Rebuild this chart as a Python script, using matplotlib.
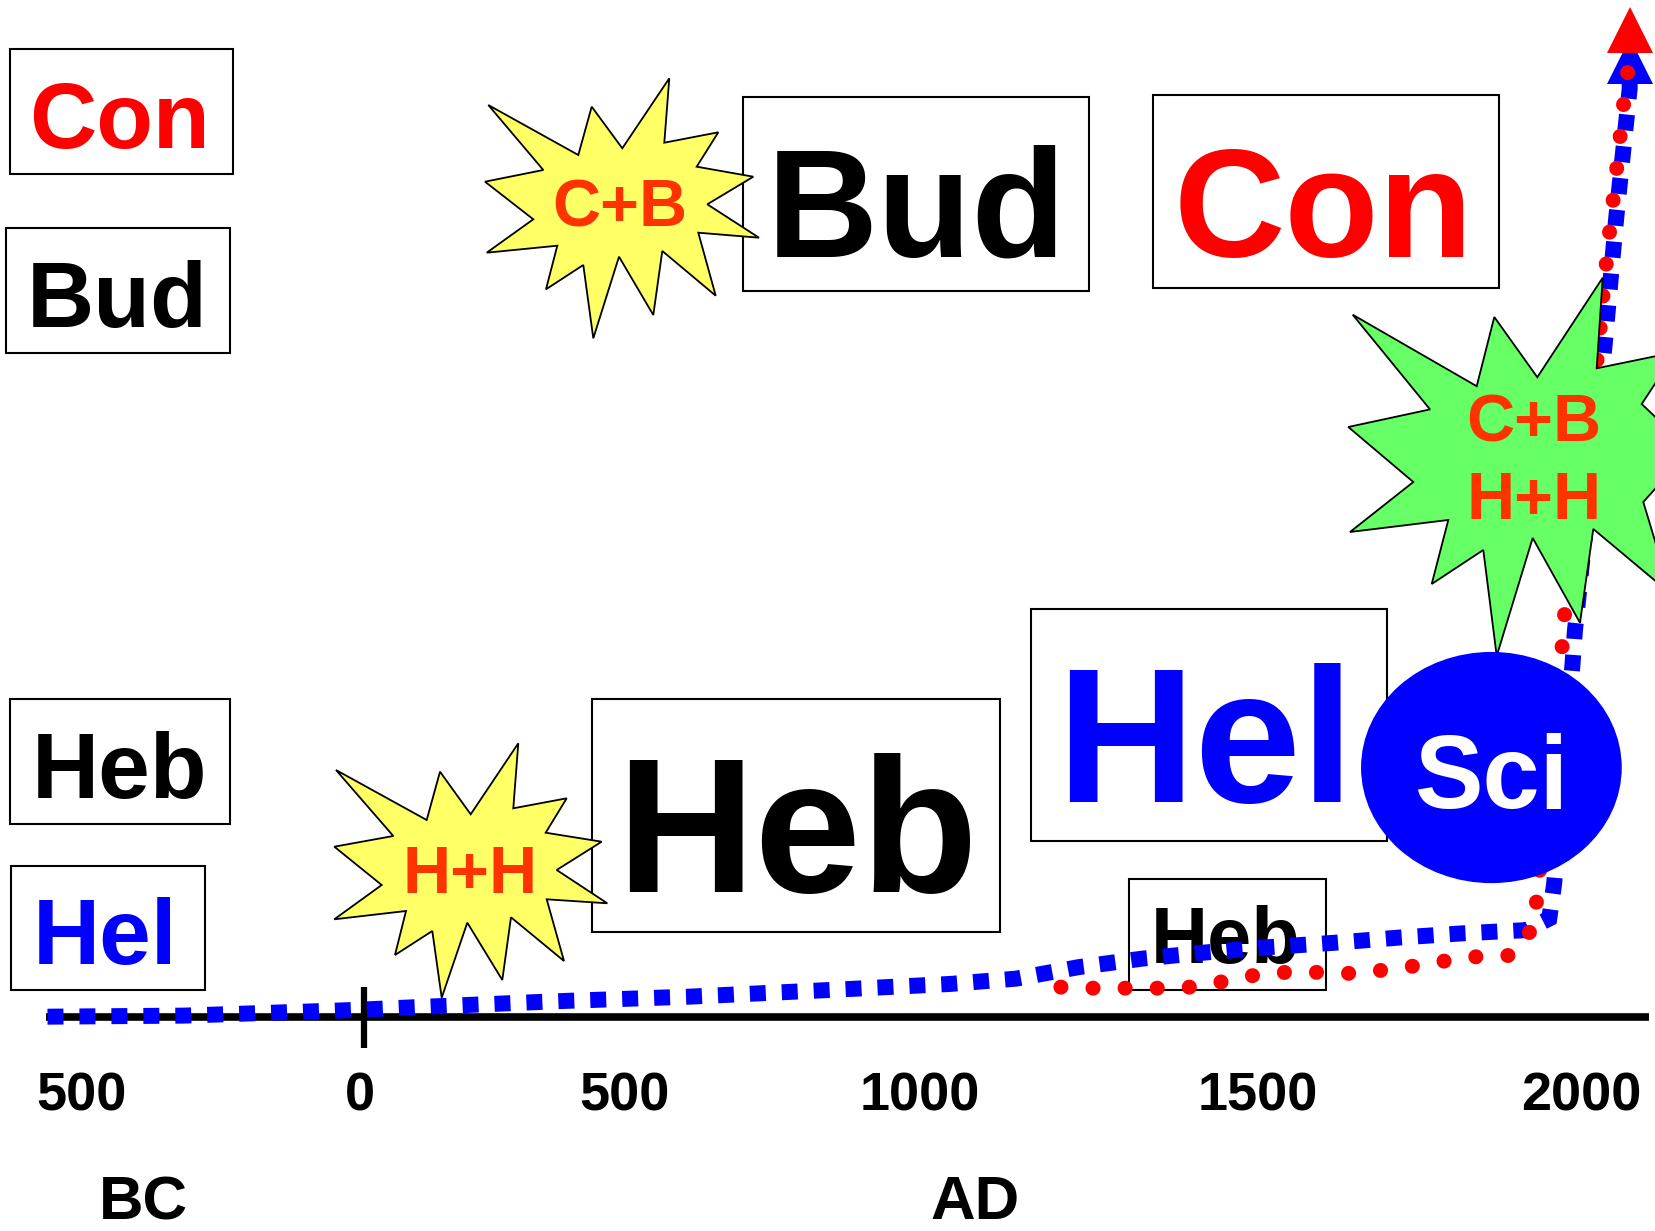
import numpy as np
import matplotlib
matplotlib.use("Agg")
import matplotlib.pyplot as plt
from matplotlib.patches import Rectangle, Polygon, Ellipse
from matplotlib.transforms import Affine2D

# curve data: year vs. relative level above the time axis
blue_years = [-520, -297, -33, 124, 333, 535, 754, 962, 1070, 1174, 1278, 1385, 1489,
              1593, 1701, 1805, 1909, 1946, 1954, 1984, 1988, 2037, 2056, 2078, 2078]
blue_level = [0, 1, 6, 10, 15, 19, 25, 31, 36, 47, 55, 61, 66,
              70, 75, 79, 82, 93, 126, 333, 365, 637, 757, 879, 905]

red_years = [1144, 1198, 1252, 1304, 1356, 1408, 1460, 1513, 1566, 1620, 1672, 1724, 1777,
             1829, 1881, 1921, 1926, 1964, 1968, 1972, 2026, 2035, 2046, 2058, 2069, 2076, 2078]
red_level = [28, 27, 27, 27, 28, 33, 39, 42, 42, 41, 44, 48, 53,
             57, 58, 85, 115, 329, 357, 388, 629, 688, 749, 810, 870, 900, 935]

tick_labels = ['500', '0', '500', '1000', '1500', '2000']
era_labels = ['BC', 'AD']

FONT = 'Liberation Sans'
RED = '#FF0000'
BLUE = '#0000FF'
ORANGE = '#FF3300'

fig = plt.figure(figsize=(16.55, 12.31), dpi=100)
ax = fig.add_axes([0, 0, 1, 1])
ax.set_xlim(-598, 2119.6)
ax.set_ylim(-203, 963)
ax.axis('off')

# layout transforms (reference-image pixels, y down)
T = Affine2D().scale(1 / 1568, -1 / 1166).translate(0, 1) + fig.transFigure
TF = Affine2D().scale(1 / 1655, -1 / 1231).translate(0, 1) + fig.transFigure


def box(x0, y0, x1, y1):
    ax.add_patch(Rectangle((x0, y0), x1 - x0, y1 - y0, transform=T, fc='white',
                           ec='black', lw=1.5, zorder=1))


def label(x, y, s, size, color, tr=T, z=2):
    ax.text(x, y, s, transform=tr, ha='center', va='baseline', fontsize=size,
            color=color, fontfamily=FONT, fontweight='bold', zorder=z)


# boxes on the left
box(9.5, 46.7, 221, 165)
label(113, 140.5, 'Con', 67, RED)
box(5.7, 216, 218, 334)
label(110.6, 309.5, 'Bud', 67, 'black')
box(9.5, 662, 218, 780.6)
label(113, 756.3, 'Heb', 67, 'black')
box(10, 820.5, 194, 938)
label(100, 913.3, 'Hel', 67, BLUE)

# big boxes
box(704, 92, 1032, 276)
label(868, 243, 'Bud', 111, 'black')
box(1092, 90, 1420, 273)
label(1254, 243, 'Con', 111, RED)
box(561, 662, 947, 883)
label(755, 845, 'Heb', 138, 'black')
box(977, 577, 1314, 797)
label(1142, 760, 'Hel', 138, BLUE)
box(1070, 833, 1256, 938)
label(1161, 912, 'Heb', 57, 'black')

# time axis
ax.axhline(0, xmin=44 / 1568, xmax=1562 / 1568, color='black', lw=5.5, zorder=2,
           solid_capstyle='butt')
ax.axvline(0, ymin=(1166 - 993) / 1166, ymax=(1166 - 935) / 1166, color='black',
           lw=4.5, zorder=2, solid_capstyle='butt')

tick_x = [77, 341, 592, 871, 1192, 1498]
for x, s in zip(tick_x, tick_labels):
    label(x, 1052, s, 39, 'black')
label(136, 1155, era_labels[0], 44.5, 'black')
label(924, 1155, era_labels[1], 44.5, 'black')

# curves
ax.plot(blue_years, blue_level, color=BLUE, lw=11.5, dashes=(1, 1),
        dash_capstyle='butt', dash_joinstyle='miter', zorder=3)
ax.plot(blue_years[-1], blue_level[-1], marker='^', ms=33, color=BLUE, mew=0, zorder=3)
ax.plot(red_years, red_level, color=RED, lw=10.8, dashes=(0.01, 2.13),
        dash_capstyle='round', zorder=3.5)
ax.plot(red_years[-1], red_level[-1], marker='^', ms=33, color=RED, mew=0, zorder=3.5)

# stars (full-size pixel coordinates)
star_cb = [(488.3, 105), (578.3, 155), (591.7, 106.7), (622.3, 148.3), (669.3, 78.3),
           (664.3, 142.7), (718.3, 132.3), (696.7, 166.7), (753.3, 176.7), (707.3, 204.3),
           (759, 237.7), (698.3, 232.7), (715.7, 295.7), (662.3, 251), (653.3, 315),
           (619, 256.7), (593.3, 338.3), (583.3, 265), (546, 289.3), (557.3, 245.7),
           (486.7, 252.7), (533.3, 219.3), (485, 181.7), (543.3, 170)]
star_hh = [(336, 770), (426.7, 820), (440, 771.7), (470.7, 814.3), (518.3, 743.3),
           (513.3, 808.3), (566.7, 798.3), (545.7, 832.7), (601.7, 841.7), (556.7, 870),
           (607.3, 903.3), (546.7, 899.3), (564, 961), (511, 917.3), (502.3, 980),
           (467.3, 922.7), (441.7, 997.7), (432.3, 931), (395, 955), (406, 911),
           (334.3, 919.3), (381.7, 885), (334.3, 846.7), (393.3, 836)]
star_green = [(1352.7, 314.7), (1476.7, 386.2), (1494.3, 317), (1537.3, 377.2),
              (1602.7, 277.7), (1596.7, 368.3), (1676, 352), (1641.7, 404),
              (1690, 450), (1643.3, 502), (1671, 594), (1593.3, 529), (1580, 622.8),
              (1532.7, 538), (1496.7, 656), (1483.3, 550), (1431.7, 584), (1448.3, 520),
              (1350, 532), (1413.3, 482), (1348.3, 427), (1430, 409.4)]

for pts, fc in [(star_cb, '#FFFF66'), (star_hh, '#FFFF66'), (star_green, '#66FF66')]:
    ax.add_patch(Polygon(pts, closed=True, transform=TF, fc=fc, ec='black', lw=1.3,
                         zorder=5, clip_on=False))

label(620, 226.7, 'C+B', 48, ORANGE, tr=TF, z=6)
label(469.7, 892.7, 'H+H', 48, ORANGE, tr=TF, z=6)
label(1534, 442, 'C+B', 48, ORANGE, tr=TF, z=6)
label(1534, 519, 'H+H', 48, ORANGE, tr=TF, z=6)

# Sci ellipse
ax.add_patch(Ellipse((1413, 727), 247, 219, transform=T, fc=BLUE, ec='none', zorder=5))
label(1413, 765, 'Sci', 74, 'white', z=6)

fig.savefig('out.png', dpi=100)
